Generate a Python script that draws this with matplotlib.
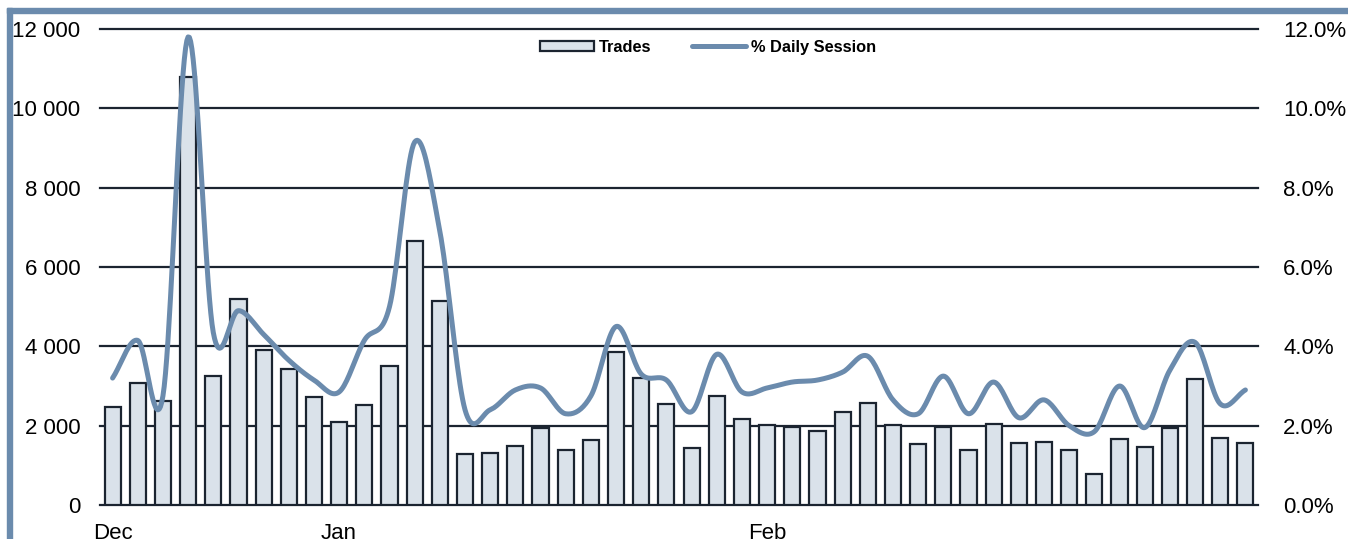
import numpy as np
import matplotlib.pyplot as plt
from matplotlib.patches import Rectangle
from matplotlib.ticker import FuncFormatter

plt.rcParams['font.family'] = ['Liberation Sans', 'DejaVu Sans']

# daily trades (left axis) and share of daily session in % (right axis)
trades = [2470, 3080, 2620, 10790, 3250, 5190, 3910, 3430, 2720, 2090,
          2520, 3500, 6650, 5140, 1290, 1310, 1490, 1940, 1380, 1640,
          3860, 3200, 2550, 1440, 2750, 2170, 2020, 1970, 1870, 2350,
          2570, 2010, 1530, 1960, 1390, 2050, 1560, 1580, 1380, 770,
          1670, 1450, 1930, 3180, 1690, 1560]
daily_pct = [3.2, 4.15, 2.75, 11.8, 4.35, 4.9, 4.3, 3.65, 3.15, 2.85,
             4.15, 5.0, 9.15, 6.9, 2.4, 2.4, 2.9, 2.95, 2.3, 2.75,
             4.5, 3.3, 3.15, 2.35, 3.8, 2.85, 2.95, 3.1, 3.15, 3.35,
             3.75, 2.65, 2.3, 3.25, 2.3, 3.1, 2.2, 2.65, 2.0, 1.85,
             3.0, 1.95, 3.4, 4.1, 2.55, 2.9]
month_labels = ['Dec', 'Jan', 'Feb']
month_pos = [0, 9, 26]

FRAME = '#6b8bad'
DARK = '#1b2430'

def catmull_rom(x, y, n=20):
    # smooth line through the points, like a spreadsheet "smoothed line"
    x = np.asarray(x, float)
    y = np.asarray(y, float)
    px = np.concatenate([[2 * x[0] - x[1]], x, [2 * x[-1] - x[-2]]])
    py = np.concatenate([[2 * y[0] - y[1]], y, [2 * y[-1] - y[-2]]])
    xs, ys = [], []
    t = np.linspace(0, 1, n, endpoint=False)
    for i in range(1, len(px) - 2):
        for p, out in ((px, xs), (py, ys)):
            p0, p1, p2, p3 = p[i - 1], p[i], p[i + 1], p[i + 2]
            out.extend(0.5 * (2 * p1 + (-p0 + p2) * t
                              + (2 * p0 - 5 * p1 + 4 * p2 - p3) * t ** 2
                              + (-p0 + 3 * p1 - 3 * p2 + p3) * t ** 3))
    xs.append(x[-1])
    ys.append(y[-1])
    return np.array(xs), np.array(ys)

fig = plt.figure(figsize=(13.48, 5.39), dpi=100)
ax = fig.add_axes([100 / 1348, 1 - 505 / 539, 1158 / 1348, 476 / 539])
ax2 = ax.twinx()

x = np.arange(len(trades))
ax.set_zorder(1)
ax.patch.set_visible(False)
ax2.set_zorder(0)

for v in range(0, 12001, 2000):
    ax.axhline(v, color=DARK, lw=1.6, zorder=0, clip_on=False)
bars = ax.bar(x, trades, width=0.64, color='#dae2ea', edgecolor=DARK,
              linewidth=1.6, zorder=2, label='Trades')

sx, sy = catmull_rom(x, daily_pct)
line, = ax.plot(sx, np.array(sy) * 1000, color=FRAME, lw=3.6, zorder=3,
                solid_capstyle='round', label='% Daily Session')

ax.set_xlim(-0.5, len(trades) - 0.5)
ax.set_ylim(0, 12000)
ax2.set_ylim(0, 12)
ax.set_yticks(range(0, 12001, 2000))
ax.yaxis.set_major_formatter(FuncFormatter(lambda v, p: f'{int(v):,}'.replace(',', ' ')))
ax2.set_yticks(range(0, 13, 2))
ax2.yaxis.set_major_formatter(FuncFormatter(lambda v, p: f'{v:.1f}%'))
ax.set_xticks(month_pos)
ax.set_xticklabels(month_labels)

for a in (ax, ax2):
    for s in a.spines.values():
        s.set_visible(False)
    a.tick_params(length=0, labelsize=16, colors='black')
ax.tick_params(axis='y', pad=14)
ax2.tick_params(axis='y', pad=18)
ax.tick_params(axis='x', pad=13)

ax.legend(handles=[bars, line], loc='center', bbox_to_anchor=(0.525, 0.962),
          ncol=2, frameon=False, prop={'weight': 'bold', 'size': 11.8},
          handlelength=3.3, handleheight=0.6, columnspacing=2.5, handletextpad=0.3)

# blue border at top and left
fig.patches.append(Rectangle((7 / 1348, 0), 5 / 1348, 1 - 8 / 539,
                             transform=fig.transFigure, color=FRAME, zorder=10))
fig.patches.append(Rectangle((7 / 1348, 1 - 13 / 539), 1, 5 / 539,
                             transform=fig.transFigure, color=FRAME, zorder=10))

plt.savefig('out.png')
